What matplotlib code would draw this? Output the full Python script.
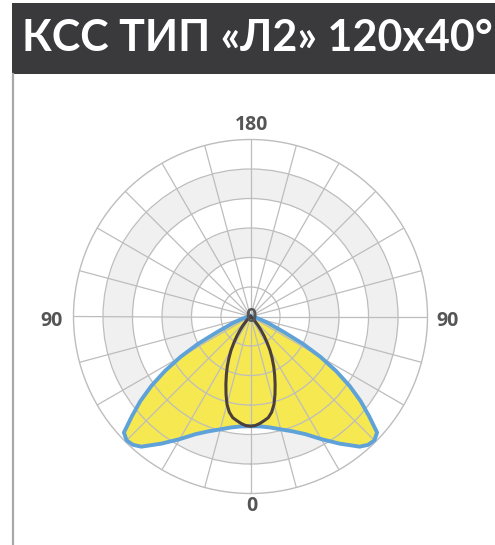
import numpy as np
import matplotlib
matplotlib.use("Agg")
import matplotlib.pyplot as plt
from matplotlib.patches import Rectangle
from matplotlib.lines import Line2D

# chart text
title = "КСС ТИП «Л2» 120х40°"
angle_labels = ["180", "0", "90", "90"]
center_label = "0"

# intensity (half curves, mirrored), rings every 50, max 300
wide_angles = [0, 5, 10, 15, 20, 25, 30, 35, 40, 42.5, 45, 47.5, 50, 52.5, 55, 57.5, 60, 62.5, 65, 70, 75, 80, 85, 90]
wide_values = [186, 187, 191, 198, 207, 220, 240, 263, 288, 295, 297, 291, 262, 235, 205, 172, 137, 100, 62, 30, 15, 6, 2, 0]

narrow_angles = [0, 2.5, 5, 7.5, 10, 12.5, 15, 17.5, 20, 22.5, 25, 27.5, 30, 32.5, 35, 37.5, 40, 45, 50, 60, 90]
narrow_values = [186, 185, 182, 178, 174, 166, 154, 138, 122, 107, 93, 79, 66, 52, 40, 29, 20, 9, 3, 0, 0]

rings = [50, 100, 150, 200, 250, 300]
shaded_bands = [(100, 150), (200, 250)]


def mirror(angles, values):
    a = np.array(angles, dtype=float)
    v = np.array(values, dtype=float)
    th = np.concatenate([-a[::-1], a[1:]])
    r = np.concatenate([v[::-1], v[1:]])
    return np.radians(th), r


W, H = 495, 545
fig = plt.figure(figsize=(W / 100, H / 100), dpi=100)

# header bar and left frame line
fig.patches.append(Rectangle((12 / W, (H - 74) / H), 1, 71 / H, transform=fig.transFigure,
                             facecolor="#3a3a3c", edgecolor="none"))
fig.lines.append(Line2D([12.5 / W, 12.5 / W], [0, (H - 74) / H], transform=fig.transFigure,
                        color="#a8a8a8", linewidth=1.6))
fig.text(22 / W, (H - 38) / H, title, color="white", fontsize=31, fontweight="bold",
         family="Lato", va="center", ha="left")

cx, cy, R = 250.5, 316.5, 177
ax = fig.add_axes([(cx - R) / W, (H - cy - R) / H, 2 * R / W, 2 * R / H], projection="polar")
ax.set_theta_zero_location("S")
ax.set_ylim(0, 300)
ax.set_axisbelow(False)

full = np.linspace(0, 2 * np.pi, 361)
for lo, hi in shaded_bands:
    ax.fill_between(full, lo, hi, color="#f0f0f0", zorder=0.5, linewidth=0)

ax.set_thetagrids(np.arange(0, 360, 15), labels=[])
ax.set_rgrids(rings[:-1], labels=[])
ax.grid(True, color="#bdbdbd", linewidth=0.9)
ax.spines["polar"].set_color("#bdbdbd")
ax.spines["polar"].set_linewidth(1.0)

th, r = mirror(wide_angles, wide_values)
ax.fill(th, r, color="#f6e851", zorder=1, linewidth=0)
ax.plot(np.append(th, th[0]), np.append(r, r[0]), color="#5fa2d9", linewidth=2.8, zorder=3)

th2, r2 = mirror(narrow_angles, narrow_values)
ax.plot(np.append(th2, th2[0]), np.append(r2, r2[0]), color="#4a3f3b", linewidth=2.2, zorder=4)

lab = dict(color="#555555", fontsize=14, fontweight="bold", family="Open Sans",
           ha="center", va="center")
fig.text(252 / W, (H - 125.5) / H, angle_labels[0], **lab)
fig.text(251.5 / W, (H - 506) / H, angle_labels[1], **lab)
fig.text(51.7 / W, (H - 321) / H, angle_labels[2], **lab)
fig.text(448 / W, (H - 321) / H, angle_labels[3], **lab)
ax.text(0, 0, center_label, zorder=5, **lab)

fig.savefig("out.png", dpi=100)
